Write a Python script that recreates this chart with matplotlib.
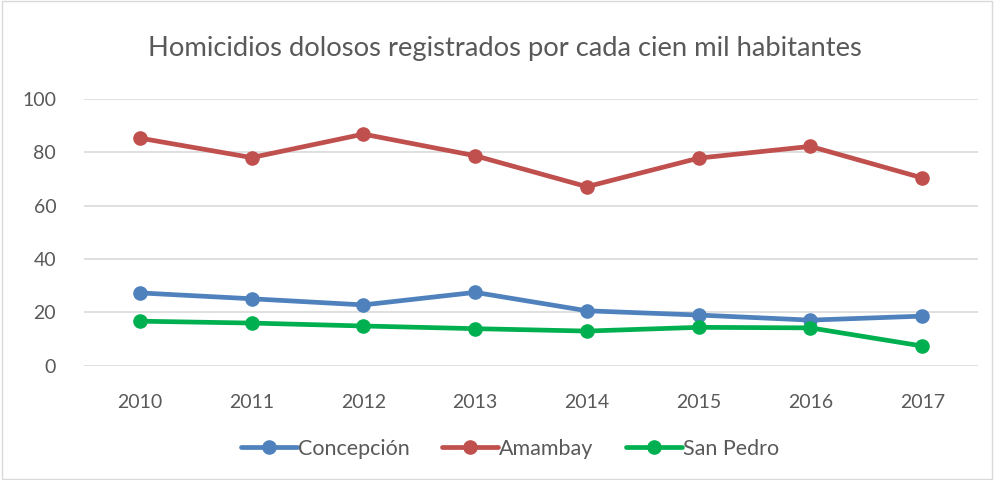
import matplotlib.pyplot as plt
import matplotlib.patches as patches

years = ["2010", "2011", "2012", "2013", "2014", "2015", "2016", "2017"]
concepcion = [27.3, 25.1, 22.8, 27.5, 20.6, 19.0, 17.1, 18.6]
amambay = [85.3, 78.0, 86.8, 78.7, 67.1, 77.8, 82.2, 70.4]
san_pedro = [16.7, 16.0, 14.9, 13.9, 13.0, 14.4, 14.2, 7.4]

plt.rcParams['font.family'] = ['Lato', 'DejaVu Sans']
text_color = '#595959'

fig = plt.figure(figsize=(9.94, 4.8), dpi=100)
ax = fig.add_axes([0.0845, 0.238, 0.8995, 0.556])

x = range(len(years))
series = [
    ("Concepción", concepcion, '#4F81BD'),
    ("Amambay", amambay, '#C0504D'),
    ("San Pedro", san_pedro, '#00B050'),
]
for name, vals, color in series:
    ax.plot(x, vals, color=color, lw=3.4, marker='o', markersize=9.5,
            label=name, solid_capstyle='round')

ax.set_xlim(-0.5, len(years) - 0.5)
ax.set_ylim(0, 100)
ax.set_yticks(range(0, 101, 20))
ax.set_xticks(list(x))
ax.set_xticklabels(years)
ax.tick_params(length=0, labelsize=14, labelcolor=text_color)
ax.tick_params(axis='x', pad=20)
ax.tick_params(axis='y', pad=20)
ax.grid(axis='y', color='#D9D9D9', lw=1.2)
ax.set_axisbelow(True)
for s in ax.spines.values():
    s.set_visible(False)

fig.text(0.508, 0.898, "Homicidios dolosos registrados por cada cien mil habitantes",
         ha='center', va='center', fontsize=19.7, color=text_color)

leg = fig.legend(loc='center', bbox_to_anchor=(0.513, 0.065), ncol=3, frameon=False,
                 fontsize=15.5, handlelength=2.6, handletextpad=0.05, columnspacing=1.5)
for t in leg.get_texts():
    t.set_color(text_color)

fig.patches.append(patches.Rectangle((0.002, 0.003), 0.996, 0.994, transform=fig.transFigure,
                                     fill=False, edgecolor='#D9D9D9', lw=1))

plt.savefig('out.png', dpi=100)
